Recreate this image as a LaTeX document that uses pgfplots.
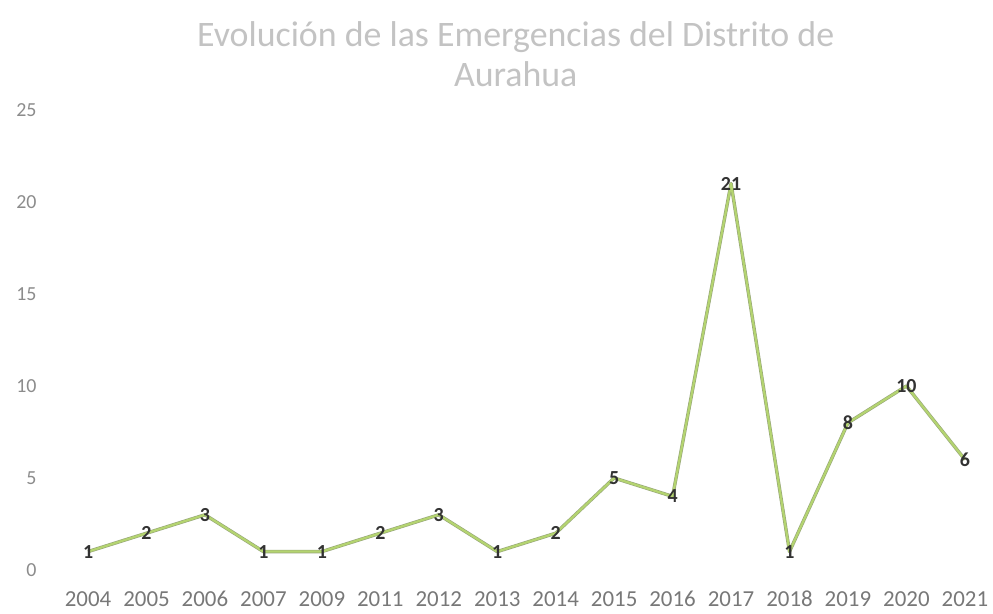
\documentclass[border=0pt]{standalone}
\usepackage{pgfplots}
\pgfplotsset{compat=1.18}
\usepackage{fontspec}
\setmainfont{Carlito}
\definecolor{linegreen}{RGB}{180,212,112}
\definecolor{lineedge}{RGB}{150,165,120}
\definecolor{ticktext}{RGB}{120,120,120}
\definecolor{yticktext}{RGB}{140,140,140}
\definecolor{titletext}{RGB}{195,195,195}
\definecolor{labeltext}{RGB}{50,50,50}
\begin{document}
\begin{tikzpicture}[x=1bp,y=1bp]
  \useasboundingbox (0,0) rectangle (993,614);
  \begin{axis}[
      at={(60bp,44bp)}, anchor=south west,
      scale only axis,
      width=930bp, height=460bp,
      xmin=-0.48, xmax=15.43,
      ymin=0, ymax=25,
      axis line style={draw=none},
      ytick={0,5,10,15,20,25},
      xtick={0,...,15},
      xticklabels={2004,2005,2006,2007,2009,2011,2012,2013,2014,2015,2016,2017,2018,2019,2020,2021},
      major tick length=0pt,
      /pgf/number format/assume math mode=true,
      yticklabel style={font=\fontsize{20}{22}\selectfont, text=yticktext, xshift=-20bp},
      xticklabel style={font=\fontsize{23}{25}\selectfont, text=ticktext, anchor=base, yshift=-37bp},
      title={Evolución de las Emergencias del Distrito de\\Aurahua},
      title style={font=\fontsize{36}{40}\selectfont, text=titletext, align=center, at={(0.49,1)}, yshift=14bp},
      clip=false,
    ]
    \addplot[draw=lineedge, line width=3.4bp, line join=round] coordinates {
      (0,1) (1,2) (2,3) (3,1) (4,1) (5,2) (6,3) (7,1) (8,2) (9,5) (10,4) (11,21) (12,1) (13,8) (14,10) (15,6)};
    \addplot[draw=linegreen, line width=2.2bp, line join=round,
      nodes near coords, point meta=explicit symbolic,
      every node near coord/.style={anchor=center, font=\bfseries\fontsize{20}{22}\selectfont, text=labeltext}]
      coordinates {
      (0,1) [1] (1,2) [2] (2,3) [3] (3,1) [1] (4,1) [1] (5,2) [2] (6,3) [3] (7,1) [1] (8,2) [2] (9,5) [5] (10,4) [4] (11,21) [21] (12,1) [1] (13,8) [8] (14,10) [10] (15,6) [6]};
  \end{axis}
\end{tikzpicture}
\end{document}
